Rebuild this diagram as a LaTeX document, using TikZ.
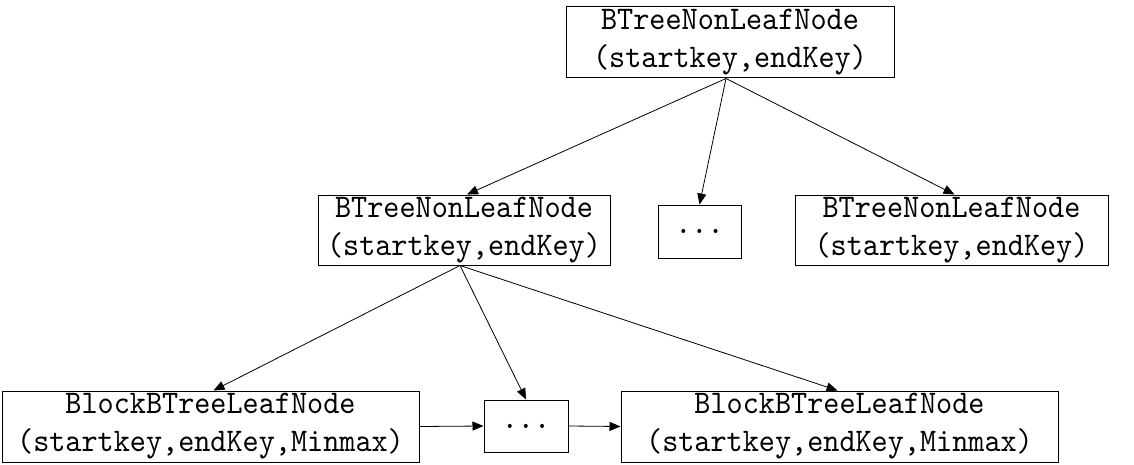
\documentclass[tikz,border=0pt]{standalone}
\usepackage{fontspec}
\setmonofont{lmmono10-regular.otf}[FakeStretch=0.93]
\usetikzlibrary{arrows.meta}
\begin{document}
\begin{tikzpicture}[x=1pt,y=-1pt,
  box/.style={draw,line width=1pt,inner sep=0pt,align=center,
    font=\ttfamily\fontsize{33}{38}\selectfont},
  arr/.style={-{Triangle[length=11pt,width=9pt]},line width=0.8pt}]
\useasboundingbox (0,0) rectangle (1134,465);
\node[box,minimum width=328pt,minimum height=71pt] (top) at (730,42.5) {BTreeNonLeafNode\\(startkey,endKey)};
\node[box,minimum width=292pt,minimum height=70pt] (ml) at (464,230) {BTreeNonLeafNode\\(startkey,endKey)};
\node[box,minimum width=83pt,minimum height=53pt] (md) at (699.5,231.5) {...};
\node[box,minimum width=313pt,minimum height=70pt] (mr) at (951.5,230) {BTreeNonLeafNode\\(startkey,endKey)};
\node[box,minimum width=417pt,minimum height=71pt] (bl) at (210.5,426.5) {BlockBTreeLeafNode\\(startkey,endKey,Minmax)};
\node[box,minimum width=84pt,minimum height=52pt] (bd) at (526,426) {...};
\node[box,minimum width=437pt,minimum height=71pt] (br) at (839.5,426.5) {BlockBTreeLeafNode\\(startkey,endKey,Minmax)};
\coordinate (ts) at ([xshift=-4pt]top.south);
\coordinate (ms) at ([xshift=-4pt]ml.south);
\draw[arr] (ts) -- ([xshift=3pt]ml.north);
\draw[arr] (ts) -- (md.north);
\draw[arr] (ts) -- ([xshift=3pt]mr.north);
\draw[arr] (ms) -- ([xshift=3pt]bl.north);
\draw[arr] (ms) -- (bd.north);
\draw[arr] (ms) -- ([xshift=-2pt]br.north);
\draw[arr] (bl.east) -- (bd.west);
\draw[arr] (bd.east) -- (br.west);
\end{tikzpicture}
\end{document}
